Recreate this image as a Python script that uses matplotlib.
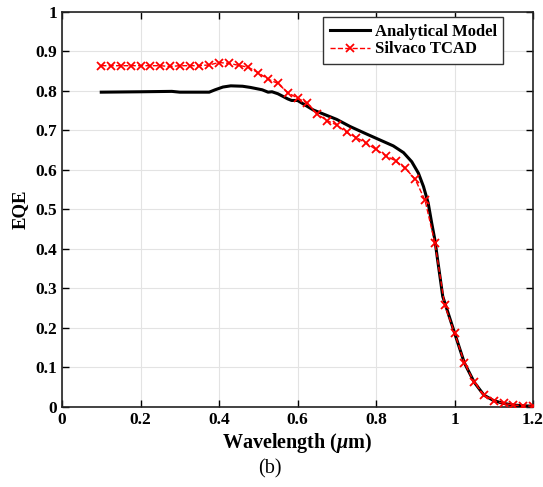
import numpy as np
import matplotlib
matplotlib.use('Agg')
import matplotlib.pyplot as plt

plt.rcParams['font.family'] = ['Liberation Serif', 'DejaVu Serif']
plt.rcParams['mathtext.fontset'] = 'custom'
plt.rcParams['mathtext.it'] = 'Liberation Serif:italic:bold'
plt.rcParams['mathtext.rm'] = 'Liberation Serif:bold'

# analytical model (black)
model_wl = [0.1, 0.2, 0.28, 0.3, 0.375, 0.39, 0.41, 0.43, 0.46, 0.48, 0.51, 0.525,
            0.535, 0.55, 0.575, 0.585, 0.6, 0.64, 0.68, 0.7, 0.734, 0.776, 0.81,
            0.844, 0.87, 0.891, 0.908, 0.921, 0.933, 0.942, 0.95, 0.957, 0.963,
            0.97, 1.0, 1.025, 1.05, 1.075, 1.1, 1.125, 1.15, 1.175, 1.2]
model_eqe = [0.797, 0.798, 0.799, 0.797, 0.797, 0.803, 0.810, 0.813, 0.812, 0.809,
             0.803, 0.797, 0.798, 0.793, 0.780, 0.776, 0.776, 0.752, 0.736, 0.728,
             0.710, 0.691, 0.676, 0.661, 0.644, 0.621, 0.592, 0.558, 0.516, 0.465,
             0.423, 0.372, 0.330, 0.280, 0.188, 0.112, 0.063, 0.030, 0.016, 0.009,
             0.005, 0.003, 0.002]

# Silvaco TCAD (red)
tcad_wl = [0.1, 0.125, 0.15, 0.175, 0.2, 0.225, 0.25, 0.275, 0.3, 0.325, 0.35, 0.375,
           0.4, 0.425, 0.45, 0.475, 0.5, 0.525, 0.55, 0.575, 0.6, 0.625, 0.65, 0.675,
           0.7, 0.725, 0.75, 0.775, 0.8, 0.825, 0.85, 0.875, 0.9, 0.925, 0.95, 0.975,
           1.0, 1.025, 1.05, 1.075, 1.1, 1.125, 1.15, 1.175, 1.2]
tcad_eqe = [0.864, 0.864, 0.864, 0.864, 0.864, 0.864, 0.864, 0.862, 0.864, 0.864,
            0.864, 0.866, 0.872, 0.870, 0.865, 0.860, 0.846, 0.830, 0.819, 0.796,
            0.782, 0.769, 0.742, 0.725, 0.714, 0.695, 0.682, 0.668, 0.652, 0.636,
            0.623, 0.604, 0.576, 0.523, 0.415, 0.258, 0.188, 0.112, 0.063, 0.030,
            0.016, 0.009, 0.005, 0.003, 0.002]

xticks = [0, 0.2, 0.4, 0.6, 0.8, 1, 1.2]
yticks = [0, 0.1, 0.2, 0.3, 0.4, 0.5, 0.6, 0.7, 0.8, 0.9, 1]

fig = plt.figure(figsize=(5.43, 4.87), dpi=100)
ax = fig.add_axes([0.1142, 0.1643, 0.8674, 0.8111])

ax.plot(model_wl, model_eqe, color='black', lw=2.2, label='Analytical Model', zorder=3)
ax.plot(tcad_wl, tcad_eqe, color='red', lw=1.0, ls='--', marker='x', ms=5.5,
        mew=1.3, label='Silvaco TCAD', zorder=4)

ax.set_xlim(0, 1.2)
ax.set_ylim(0, 1)
ax.set_xticks(xticks)
ax.set_yticks(yticks)
ax.set_xticklabels(['0', '0.2', '0.4', '0.6', '0.8', '1', '1.2'])
ax.set_yticklabels(['0', '0.1', '0.2', '0.3', '0.4', '0.5', '0.6', '0.7', '0.8', '0.9', '1'])
ax.tick_params(direction='in', top=True, right=True, length=5, width=1,
               labelsize=12.5)
for lab in ax.get_xticklabels() + ax.get_yticklabels():
    lab.set_fontweight('bold')
ax.grid(True, color='#e3e3e3', lw=0.8)
ax.set_axisbelow(True)
for s in ax.spines.values():
    s.set_linewidth(1.2)
    s.set_color('#222222')

ax.set_xlabel(r'Wavelength ($\mu$m)', fontsize=14.5, fontweight='bold', labelpad=2)
ax.set_ylabel('EQE', fontsize=13.5, fontweight='bold', labelpad=5)

leg = ax.legend(loc='upper right', bbox_to_anchor=(0.937, 0.987), borderaxespad=0,
                fancybox=False, edgecolor='#333333', framealpha=1, borderpad=0.4,
                handlelength=2.4, handletextpad=0.3, labelspacing=0.1,
                prop={'weight': 'bold', 'size': 12})
leg.get_frame().set_linewidth(1.0)

fig.text(0.497, 0.038, '(b)', ha='center', va='center', fontsize=14.5)

fig.savefig('out.png', dpi=100)
